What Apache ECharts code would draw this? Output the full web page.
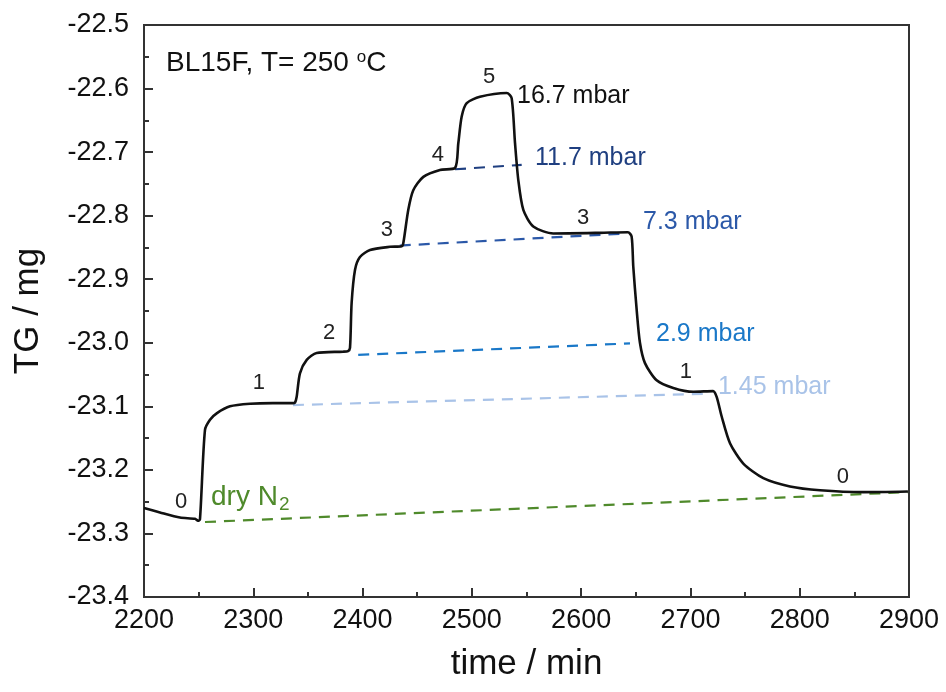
<!DOCTYPE html>
<html>
<head>
<meta charset="utf-8">
<script src="https://cdn.jsdelivr.net/npm/echarts@6/dist/echarts.min.js"></script>
<style>
  html, body { margin: 0; padding: 0; background: #fff; }
  #chart { width: 946px; height: 692px; }
</style>
</head>
<body>
<div id="chart"></div>
<script>
// TG trace (time in min, mass change in mg)
const tgTime = [2200, 2214.6, 2232.9, 2246.7, 2249.4, 2251.2, 2255.8, 2260.4, 2266.5, 2278.7, 2297, 2318, 2336.3,
  2338.2, 2339.7, 2342.7, 2348.9, 2358, 2382.1, 2386.7,
  2388.5, 2390, 2393.1, 2397.6, 2406.8, 2425.1, 2435.8,
  2437.3, 2441.8, 2446.4, 2455.6, 2470.8, 2484.6,
  2487.6, 2490.7, 2495.3, 2507.4, 2531.9, 2536.4, 2539.5, 2542.5, 2547.1, 2556.2, 2574.5, 2617.2, 2642.8,
  2646.2, 2647.7, 2650.8, 2653.8, 2658.4, 2669.1, 2684.3, 2702.6, 2720.7,
  2724.0, 2728.6, 2736.2, 2748.4, 2766.7, 2791.1, 2818.6, 2858.2, 2899];
const tgMass = [-23.260, -23.267, -23.275, -23.277, -23.280, -23.278, -23.137, -23.121, -23.111, -23.100, -23.096, -23.095, -23.095,
  -23.094, -23.085, -23.048, -23.027, -23.016, -23.014, -23.013,
  -23.008, -22.937, -22.885, -22.865, -22.854, -22.849, -22.848,
  -22.843, -22.791, -22.760, -22.739, -22.728, -22.725,
  -22.686, -22.644, -22.623, -22.613, -22.607, -22.615, -22.686, -22.744, -22.791, -22.817, -22.828, -22.827, -22.826,
  -22.833, -22.880, -22.948, -23.000, -23.032, -23.059, -23.071, -23.077, -23.076,
  -23.085, -23.116, -23.158, -23.190, -23.213, -23.226, -23.232, -23.235, -23.234];

// Baselines drawn under each plateau: [start time, start mass, end time, end mass]
const baseDry   = [2255.8, -23.282, 2899, -23.235];
const base145   = [2336.3, -23.098, 2718, -23.080];
const base29    = [2396.0, -23.019, 2644.7, -23.001];
const base73    = [2434.0, -22.847, 2641.7, -22.828];
const base117   = [2484.6, -22.727, 2545.6, -22.720];

// Step numbers on the plateaus
const stepText = ['0', '1', '2', '3', '4', '5', '3', '1', '0'];
const stepTime = [2233.9, 2305.2, 2369.3, 2422.3, 2469, 2515.7, 2601.7, 2695.9, 2839.6];
const stepMass = [-23.250, -23.063, -22.985, -22.8225, -22.705, -22.582, -22.804, -23.046, -23.211];

// Water partial pressure labels
const pText = ['16.7 mbar', '11.7 mbar', '7.3 mbar', '2.9 mbar', '1.45 mbar'];
const pTime = [2541.3, 2557.8, 2656.6, 2668.5, 2725.2];
const pMass = [-22.612, -22.709, -22.810, -22.986, -23.070];
const pColor = ['#111111', '#1f3f80', '#2b58a8', '#1a78c8', '#a9c3e8'];

const xTicks = [2200, 2300, 2400, 2500, 2600, 2700, 2800, 2900];
const yTicks = [-23.4, -23.3, -23.2, -23.1, -23.0, -22.9, -22.8, -22.7, -22.6, -22.5];

const FONT = 'Liberation Sans';
const GREEN = '#4f8a2b';

function pairs(xs, ys) { return xs.map((x, i) => [x, ys[i]]); }
function seg(b) { return [[b[0], b[1]], [b[2], b[3]]]; }
function dashed(b, color, width) {
  return {
    type: 'line', data: seg(b), symbol: 'none', silent: true, z: 2,
    lineStyle: { color: color, width: width, type: [11, 8] }
  };
}

const chart = echarts.init(document.getElementById('chart'), null, { renderer: 'canvas' });
chart.setOption({
  animation: false,
  backgroundColor: '#ffffff',
  grid: { left: 144, right: 37, top: 25, bottom: 95, show: true, borderColor: '#333', borderWidth: 2, backgroundColor: 'transparent' },
  title: {
    text: 'BL15F, T= 250 {sup|o}C',
    left: 161, top: 44,
    textStyle: {
      fontFamily: FONT, fontSize: 28, fontWeight: 'normal', color: '#111',
      rich: { sup: { fontFamily: FONT, fontSize: 17, color: '#111', verticalAlign: 'top', padding: [0, 0, 12, 0] } }
    }
  },
  xAxis: {
    type: 'value', min: xTicks[0], max: xTicks[xTicks.length - 1], interval: 100,
    name: 'time / min', nameLocation: 'middle', nameGap: 50,
    nameTextStyle: { fontFamily: FONT, fontSize: 35, color: '#111' },
    axisLine: { show: true, lineStyle: { color: '#333', width: 2 } },
    axisTick: { show: true, inside: true, length: 9, lineStyle: { color: '#333', width: 2 } },
    minorTick: { show: true, splitNumber: 2, length: 5, lineStyle: { color: '#333', width: 2 } },
    axisLabel: { fontFamily: FONT, fontSize: 27, color: '#111', margin: 10, formatter: v => String(v) },
    splitLine: { show: false }
  },
  yAxis: {
    type: 'value', min: yTicks[0], max: yTicks[yTicks.length - 1], interval: 0.1,
    name: 'TG / mg', nameLocation: 'middle', nameGap: 98, nameRotate: 90,
    nameTextStyle: { fontFamily: FONT, fontSize: 35, color: '#111' },
    axisLine: { show: true, lineStyle: { color: '#333', width: 2 } },
    axisTick: { show: true, inside: true, length: 9, lineStyle: { color: '#333', width: 2 } },
    minorTick: { show: true, splitNumber: 2, length: 5, lineStyle: { color: '#333', width: 2 } },
    axisLabel: { fontFamily: FONT, fontSize: 27, color: '#111', margin: 15, formatter: v => v.toFixed(1) },
    splitLine: { show: false }
  },
  series: [
    dashed(baseDry, GREEN, 2.2),
    dashed(base145, '#a9c3e8', 2.2),
    dashed(base29, '#1a78c8', 2.2),
    dashed(base73, '#2b58a8', 2.2),
    dashed(base117, '#1f3f80', 2.2),
    {
      type: 'line', data: pairs(tgTime, tgMass), symbol: 'none', smooth: 0.25, z: 5,
      lineStyle: { color: '#111', width: 2.6 }
    },
    {
      type: 'scatter', symbolSize: 0, silent: true, z: 6, itemStyle: { opacity: 1 },
      data: stepText.map((t, i) => ({ value: [stepTime[i], stepMass[i]], name: t })),
      label: { show: true, position: 'inside', formatter: p => p.name, fontFamily: FONT, fontSize: 22, color: '#222' }
    },
    {
      type: 'scatter', symbolSize: 0, silent: true, z: 6, itemStyle: { opacity: 1 },
      data: pText.map((t, i) => ({ value: [pTime[i], pMass[i]], name: t, label: { color: pColor[i] } })),
      label: { show: true, position: 'inside', align: 'left', formatter: p => p.name, fontFamily: FONT, fontSize: 25 }
    },
    {
      type: 'scatter', symbolSize: 0, silent: true, z: 6, itemStyle: { opacity: 1 },
      data: [{ value: [2261.3, -23.243], name: 'dry' }],
      label: {
        show: true, position: 'inside', align: 'left',
        formatter: 'dry N{sub|2}',
        fontFamily: FONT, fontSize: 28, color: GREEN,
        rich: { sub: { fontFamily: FONT, fontSize: 19, color: GREEN, verticalAlign: 'bottom', padding: [16, 0, 0, 1] } }
      }
    }
  ]
});
</script>
</body>
</html>
